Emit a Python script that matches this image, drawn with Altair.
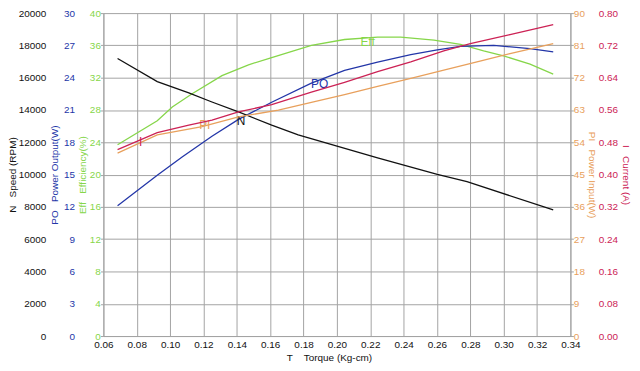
import altair as alt
import pandas as pd

# ---------------- data ----------------
n_torque = [0.0685, 0.0923, 0.1112, 0.1251, 0.1410, 0.1609, 0.1768, 0.2244, 0.2602, 0.2780, 0.3297]
n_speed = [17187, 15761, 15064, 14495, 13884, 13058, 12459, 11028, 10012, 9560, 7810]

eff_torque = [0.0685, 0.0923, 0.1013, 0.1132, 0.1311, 0.1470, 0.1609, 0.1847, 0.2046, 0.2244,
              0.2383, 0.2582, 0.2741, 0.2880, 0.2999, 0.3158, 0.3297]
eff_value = [23.69, 26.67, 28.38, 30.01, 32.26, 33.60, 34.50, 36.00, 36.73, 37.03,
             37.03, 36.66, 36.12, 35.31, 34.70, 33.68, 32.45]

po_torque = [0.0685, 0.0923, 0.1072, 0.1251, 0.1410, 0.1609, 0.1847, 0.2046, 0.2244, 0.2443,
             0.2602, 0.2741, 0.2940, 0.3158, 0.3297]
po_value = [12.11, 14.94, 16.63, 18.56, 20.13, 21.72, 23.49, 24.68, 25.45, 26.15,
            26.59, 26.91, 27.00, 26.70, 26.39]

i_torque = [0.0685, 0.0923, 0.1112, 0.1251, 0.1410, 0.1609, 0.1847, 0.2046, 0.2244, 0.2443,
            0.2641, 0.2800, 0.3038, 0.3297]
i_value = [0.4617, 0.5040, 0.5228, 0.5350, 0.5554, 0.5732, 0.6043, 0.6287, 0.6549, 0.6794,
           0.7063, 0.7242, 0.7469, 0.7714]

pi_torque = [0.0685, 0.0923, 0.1192, 0.1410, 0.1649, 0.1847, 0.2046, 0.2244, 0.2443, 0.2641,
             0.2840, 0.3038, 0.3297]
pi_value = [51.0, 56.06, 58.35, 61.10, 62.94, 65.09, 67.29, 69.55, 71.78, 74.09,
            76.43, 78.72, 81.47]

# curve labels (text, torque, value)
n_label = ("N", 0.1426, 13333)
po_label = ("PO", 0.1897, 23.42)
eff_label = ("Eff", 0.2185, 36.45)
pi_label = ("PI", 0.1208, 58.76)
i_label = ("I", 0.0823, 0.4807)

x_ticks = [0.06, 0.08, 0.10, 0.12, 0.14, 0.16, 0.18, 0.20, 0.22, 0.24, 0.26, 0.28, 0.30, 0.32, 0.34]
n_ticks = [0, 2000, 4000, 6000, 8000, 10000, 12000, 14000, 16000, 18000, 20000]
po_ticks = [0, 3, 6, 9, 12, 15, 18, 21, 24, 27, 30]
eff_ticks = [0, 4, 8, 12, 16, 20, 24, 28, 32, 36, 40]
pi_ticks = [0, 9, 18, 27, 36, 45, 54, 63, 72, 81, 90]
i_ticks = [0, 0.08, 0.16, 0.24, 0.32, 0.40, 0.48, 0.56, 0.64, 0.72, 0.80]

# ---------------- styling ----------------
FONT = "Liberation Sans"
GRID = "#a3a3a3"
BLACK = "#111111"
BLUE = "#2336a8"
GREEN = "#86d64a"
ORANGE = "#e8a05c"
RED = "#cc2255"
NB = "\u00a0"

x_enc = alt.X(
    "t:Q",
    scale=alt.Scale(domain=[0.06, 0.34], nice=False, zero=False),
    axis=alt.Axis(
        values=x_ticks, format=".2f", title="T" + NB * 4 + "Torque (Kg-cm)",
        grid=True, gridColor=GRID, gridWidth=1, domainColor=GRID, ticks=False,
        labelPadding=4, labelColor=BLACK, titleColor=BLACK, titlePadding=3,
        labelFlush=False, labelOverlap=False, titleX=227,
    ),
)


def series(tvals, vvals, label, color, domain, ticks, fmt, title, orient, offset,
           title_pad, label_pad, tick_size, show_domain, grid, label_color):
    df = pd.DataFrame({"t": tvals, "v": vvals})
    lab = pd.DataFrame({"t": [label[1]], "v": [label[2]], "lab": [label[0]]})
    axis = alt.Axis(
        values=ticks, format=fmt, title=title, orient=orient, offset=offset,
        titlePadding=title_pad, labelPadding=label_pad,
        ticks=tick_size > 0, tickSize=max(tick_size, 1), tickColor=GRID,
        domain=show_domain, domainColor=GRID,
        grid=grid, gridColor=GRID, gridWidth=1,
        labelColor=label_color, titleColor=color,
        labelFlush=False, labelOverlap=False, labelBound=False,
    )
    y = alt.Y("v:Q", scale=alt.Scale(domain=domain, nice=False, zero=False), axis=axis)
    line = alt.Chart(df).mark_line(color=color, strokeWidth=1.3).encode(x=x_enc, y=y)
    text = alt.Chart(lab).mark_text(color=color, fontSize=12, font=FONT).encode(
        x=x_enc, y=y, text="lab:N"
    )
    return alt.layer(line, text)


eff_layer = series(eff_torque, eff_value, eff_label, GREEN, [0, 40], eff_ticks, "d",
                   "Eff" + NB * 3 + "Efficiency(%)", "left", 0, 2, 0, 3, True, True, GREEN)
po_layer = series(po_torque, po_value, po_label, BLUE, [0, 30], po_ticks, "d",
                  "PO" + NB * 3 + "Power Output(W)", "left", 27, 4, 2, 0, False, False, BLUE)
n_layer = series(n_torque, n_speed, n_label, BLACK, [0, 20000], n_ticks, "d",
                 "N" + NB * 3 + "Speed (RPM)", "left", 56, 1, 2, 0, False, False, BLACK)
pi_layer = series(pi_torque, pi_value, pi_label, ORANGE, [0, 90], pi_ticks, "d",
                  "PI" + NB * 3 + "Power Input(W)", "right", 0, 2, 0, 3, True, False, ORANGE)
i_layer = series(i_torque, i_value, i_label, RED, [0, 0.8], i_ticks, ".2f",
                 "I" + NB * 3 + "Current (A)", "right", 26, 3, 2, 0, False, False, RED)

chart = (
    alt.layer(eff_layer, po_layer, n_layer, pi_layer, i_layer)
    .resolve_scale(y="independent")
    .properties(
        width=470, height=325,
        autosize=alt.AutoSizeParams(type="none"),
        padding={"left": 96, "top": 4, "right": 62, "bottom": 28},
    )
    .configure_view(stroke=None)
    .configure_axis(
        labelFont=FONT, titleFont=FONT, labelFontSize=10, titleFontSize=10,
        titleFontWeight="normal",
    )
)

chart.save("out.html", embed_options={"renderer": "svg", "actions": False})
